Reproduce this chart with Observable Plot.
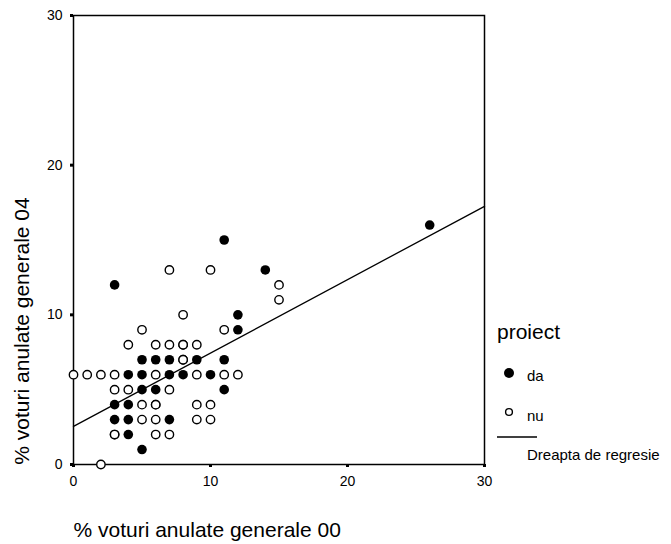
<!DOCTYPE html>
<html>
<head>
<meta charset="utf-8">
<script src="https://cdn.jsdelivr.net/npm/d3@7"></script>
<script src="https://cdn.jsdelivr.net/npm/@observablehq/plot@0.6"></script>
<style>
  html, body { margin: 0; padding: 0; background: white; }
  #wrap { position: relative; width: 671px; height: 544px; font-family: "Liberation Sans", Arial, sans-serif; }
  #legend { position: absolute; left: 490px; top: 310px; }
</style>
</head>
<body>
<div id="wrap"></div>
<script>
// ---- Data ----
const xTitle = "% voturi anulate generale 00";
const yTitle = "% voturi anulate generale 04";
const legendTitle = "proiect";
const groupLabels = ["da", "nu"];
const regressionLabel = "Dreapta de regresie";

const xTicks = [0, 10, 20, 30];
const yTicks = [0, 10, 20, 30];

// proiect = da (filled circles)
const daX = [3, 11, 14, 26, 12, 12, 5, 6, 7, 9, 11, 4, 5, 7, 8, 10, 5, 6, 11, 3, 4, 3, 4, 7, 4, 5];
const daY = [12, 15, 13, 16, 10, 9, 7, 7, 7, 7, 7, 6, 6, 6, 6, 6, 5, 5, 5, 4, 4, 3, 3, 3, 2, 1];

// proiect = nu (open circles)
const nuX = [7, 10, 15, 15, 8, 5, 11, 4, 6, 7, 8, 8, 9, 8, 8, 0, 1, 2, 3, 6, 9, 11, 12, 3, 4, 7, 5, 6, 6, 9, 10, 5, 6, 9, 10, 3, 3, 6, 7, 2];
const nuY = [13, 13, 12, 11, 10, 9, 9, 8, 8, 8, 8, 8, 8, 7, 7, 6, 6, 6, 6, 6, 6, 6, 6, 5, 5, 5, 4, 4, 4, 4, 4, 3, 3, 3, 3, 2, 2, 2, 2, 0];

// regression line end points
const regX = [0, 30];
const regY = [2.55, 17.25];

// ---- Build tables ----
const da = daX.map((x, i) => ({x, y: daY[i]}));
const nu = nuX.map((x, i) => ({x, y: nuY[i]}));
const reg = regX.map((x, i) => ({x, y: regY[i]}));

const font = "'Liberation Sans', Arial, sans-serif";

const chart = Plot.plot({
  width: 671,
  height: 544,
  marginLeft: 73,
  marginRight: 187,
  marginTop: 15,
  marginBottom: 80,
  x: {domain: [0, 30]},
  y: {domain: [0, 30]},
  style: {fontFamily: font, fontSize: "14px", color: "black", background: "white", overflow: "visible"},
  marks: [
    Plot.axisX({ticks: xTicks, tickSize: 3, tickPadding: 9, strokeWidth: 3, label: null, fontSize: 14}),
    Plot.axisY({ticks: yTicks, tickSize: 3, tickPadding: 8, strokeWidth: 3, label: null, fontSize: 14}),
    Plot.frame({stroke: "black", strokeWidth: 1.5}),
    Plot.dot(da, {x: "x", y: "y", r: 4.8, fill: "black", stroke: "none"}),
    Plot.dot(nu, {x: "x", y: "y", r: 4.2, fill: "white", stroke: "black", strokeWidth: 1.4}),
    Plot.line(reg, {x: "x", y: "y", stroke: "black", strokeWidth: 1.3}),
    Plot.text([yTitle], {text: d => d, frameAnchor: "left", textAnchor: "middle", rotate: -90, dx: -51, dy: 91, fontSize: 21, lineAnchor: "middle"}),
    Plot.text([xTitle], {text: d => d, frameAnchor: "bottom-left", textAnchor: "start", lineAnchor: "middle", dy: 66, fontSize: 21})
  ]
});

const wrap = document.getElementById("wrap");
wrap.appendChild(chart);

// ---- Legend (HTML/SVG overlay to the right of the plot) ----
const lg = d3.select(wrap).append("svg")
  .attr("id", "legend")
  .attr("width", 181).attr("height", 160)
  .style("font-family", font);

lg.append("text").attr("x", 7).attr("y", 29).attr("font-size", 21).text(legendTitle);
lg.append("circle").attr("cx", 19).attr("cy", 63).attr("r", 5).attr("fill", "black");
lg.append("text").attr("x", 37).attr("y", 71).attr("font-size", 15).text(groupLabels[0]);
lg.append("circle").attr("cx", 19).attr("cy", 102).attr("r", 3.4).attr("fill", "white").attr("stroke", "black").attr("stroke-width", 1.4);
lg.append("text").attr("x", 37).attr("y", 110.5).attr("font-size", 15).text(groupLabels[1]);
lg.append("line").attr("x1", 7).attr("x2", 47).attr("y1", 127).attr("y2", 127).attr("stroke", "black").attr("stroke-width", 1.3);
lg.append("text").attr("x", 37).attr("y", 150).attr("font-size", 15).text(regressionLabel);
</script>
</body>
</html>
